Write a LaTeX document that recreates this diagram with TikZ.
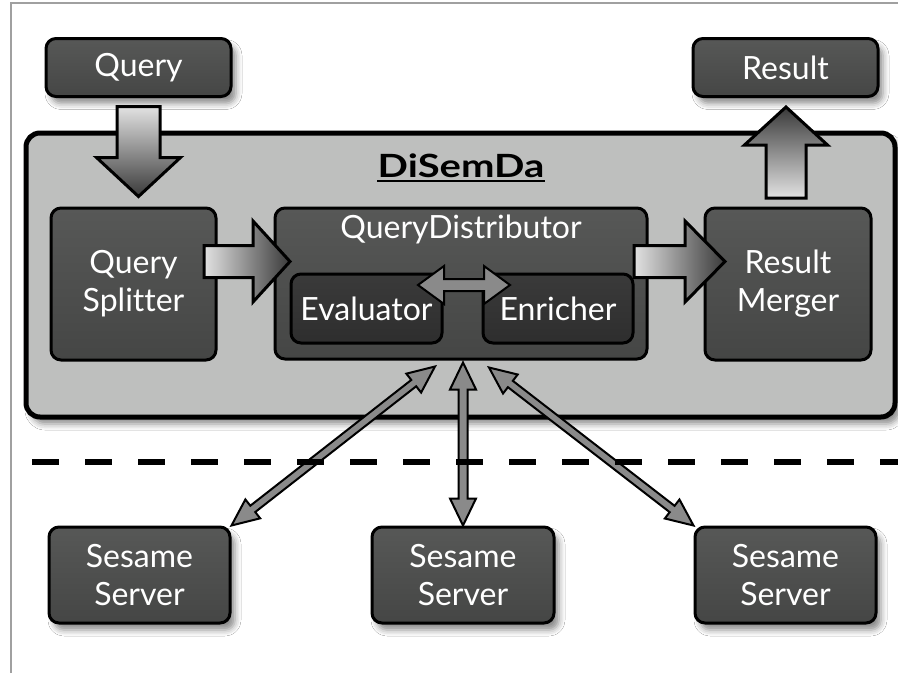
\documentclass[tikz,border=0pt]{standalone}
\usepackage{fontspec}
\setmainfont{Lato}[Ligatures=NoCommon]
\usepackage{graphicx}
\usetikzlibrary{calc,shadows.blur}
\definecolor{boxtop}{HTML}{575857}
\definecolor{boxbot}{HTML}{454645}
\definecolor{innertop}{HTML}{3A3A3A}
\definecolor{innerbot}{HTML}{2E2E2E}
\definecolor{bigfill}{HTML}{BEBFBE}
\definecolor{arrlight}{HTML}{E2E2E2}
\definecolor{arrdark}{HTML}{3A3A3A}
\definecolor{thinfill}{HTML}{8A8A8A}
\definecolor{framegray}{HTML}{A0A0A0}
\newcommand\dblarr[5]{%
  \draw[thinarrow] let \p1=(#1), \p2=(#2), \n1={atan2(\y2-\y1,\x2-\x1)} in
    (\p1) -- ($(\p1)+(\n1:#5)+(\n1+90:#4)$) -- ($(\p1)+(\n1:#5)+(\n1+90:#3)$)
    -- ($(\p2)+(\n1:-#5)+(\n1+90:#3)$) -- ($(\p2)+(\n1:-#5)+(\n1+90:#4)$)
    -- (\p2) -- ($(\p2)+(\n1:-#5)+(\n1-90:#4)$) -- ($(\p2)+(\n1:-#5)+(\n1-90:#3)$)
    -- ($(\p1)+(\n1:#5)+(\n1-90:#3)$) -- ($(\p1)+(\n1:#5)+(\n1-90:#4)$) -- cycle;}
\begin{document}
\begin{tikzpicture}[x=1pt,y=1pt,
  boxshadow/.style={blur shadow={shadow xshift=5pt, shadow yshift=-7pt, shadow blur radius=6pt, shadow opacity=45}},
  box/.style={draw=black, line width=3pt, rounded corners=10pt, top color=boxtop, bottom color=boxbot,
    text=white, align=center, inner sep=0pt, font=\fontsize{32}{38}\selectfont},
  innerbox/.style={box, top color=innertop, bottom color=innerbot},
  bigbox/.style={draw=black, line width=5pt, rounded corners=14pt, fill=bigfill, inner sep=0pt},
  blockarrow/.style={draw=black, line width=3pt, line join=miter},
  thinarrow/.style={draw=black, line width=2pt, fill=thinfill, line join=miter},
  label/.style={text=white, inner sep=0pt, font=\fontsize{32}{38}\selectfont}]
\useasboundingbox (0,0) rectangle (898,-673);
\fill[white] (0,0) rectangle (898,-673);
% slide frame
\draw[framegray, line width=1.5pt] (11,-673) -- (11,-3) -- (898,-3);
% main system box
\node[bigbox, boxshadow, minimum width=869pt, minimum height=284pt] (sys) at (460.5,-275) {};
\node[anchor=base, inner sep=0pt, font=\fontsize{32}{32}\selectfont\bfseries] (title) at (461,-177) {\scalebox{1.25}[1]{DiSemDa}};
\draw[line width=2pt] ($(title.base west)+(0,-4)$) -- ($(title.base east)+(0,-4)$);
% components
\node[box, minimum width=165pt, minimum height=152pt] (splitter) at (133.5,-284) {Query\\Splitter};
\node[box, minimum width=372pt, minimum height=151pt] (qd) at (461,-283.5) {};
\node[label] (qdlabel) at (461,-229) {QueryDistributor};
\node[box, minimum width=166pt, minimum height=152pt] (merger) at (788,-284) {Result\\Merger};
\node[innerbox, minimum width=151pt, minimum height=69pt] (eval) at (366.5,-308.5) {Evaluator};
\node[innerbox, minimum width=150pt, minimum height=69pt] (enr) at (558,-308.5) {Enricher};
% block arrows inside
\draw[blockarrow, left color=arrlight, right color=arrdark]
  ($(splitter.east)+(-13.5,-16+22.5)$) -- ++(49,0) -- ++(0,-24.5) -- ++(37,40.5) -- ++(-37,40.5) -- ++(0,-24.5) -- ++(-49,0) -- cycle;
\draw[blockarrow, left color=arrlight, right color=arrdark]
  ($(qd.east)+(-14.5,-16+22)$) -- ++(51,0) -- ++(0,-24.5) -- ++(40,40.5) -- ++(-40,40.5) -- ++(0,-24.5) -- ++(-51,0) -- cycle;
% evaluator <-> enricher
\coordinate (ee1) at ($(eval.north east)+(-25.5,-12.5)$);
\coordinate (ee2) at ($(enr.north west)+(28.5,-12.5)$);
\dblarr{ee1}{ee2}{6pt}{19pt}{26pt}
% query and result
\node[box, boxshadow, minimum width=185pt, minimum height=58pt] (query) at (138.5,-67.5) {Query};
\node[box, boxshadow, minimum width=185pt, minimum height=58pt] (result) at (785.5,-67.5) {Result};
\draw[blockarrow, top color=arrlight, bottom color=arrdark]
  ($(query.south)+(-21.5,-8.5)$) -- ++(43,0) -- ++(0,-51) -- ++(20.5,0) -- ++(-42,-39) -- ++(-42,39) -- ++(20.5,0) -- cycle;
\draw[blockarrow, bottom color=arrlight, top color=arrdark]
  ($(merger.north)+(-22,8.5)$) -- ++(40,0) -- ++(0,53) -- ++(21.5,0) -- ++(-41.5,38) -- ++(-41.5,-38) -- ++(21.5,0) -- cycle;
% servers
\node[box, boxshadow, minimum width=181pt, minimum height=96pt] (s1) at (139.5,-575) {Sesame\\Server};
\node[box, boxshadow, minimum width=182pt, minimum height=96pt] (s2) at (463,-575) {Sesame\\Server};
\node[box, boxshadow, minimum width=181pt, minimum height=96pt] (s3) at (785.5,-575) {Sesame\\Server};
% connections to servers
\coordinate (c1) at ($(qd.south)+(-26,-6)$);
\coordinate (c2) at ($(qd.south)+(2,-2)$);
\coordinate (c3) at ($(qd.south)+(28,-7)$);
\dblarr{c1}{s1.north east}{4pt}{12pt}{27pt}
\dblarr{c2}{s2.north}{4.5pt}{13pt}{27pt}
\dblarr{c3}{s3.north west}{4pt}{12pt}{27pt}
% separator
\draw[line width=6pt, dash pattern=on 27pt off 26pt] (32,-462) -- (898,-462);
\end{tikzpicture}
\end{document}
